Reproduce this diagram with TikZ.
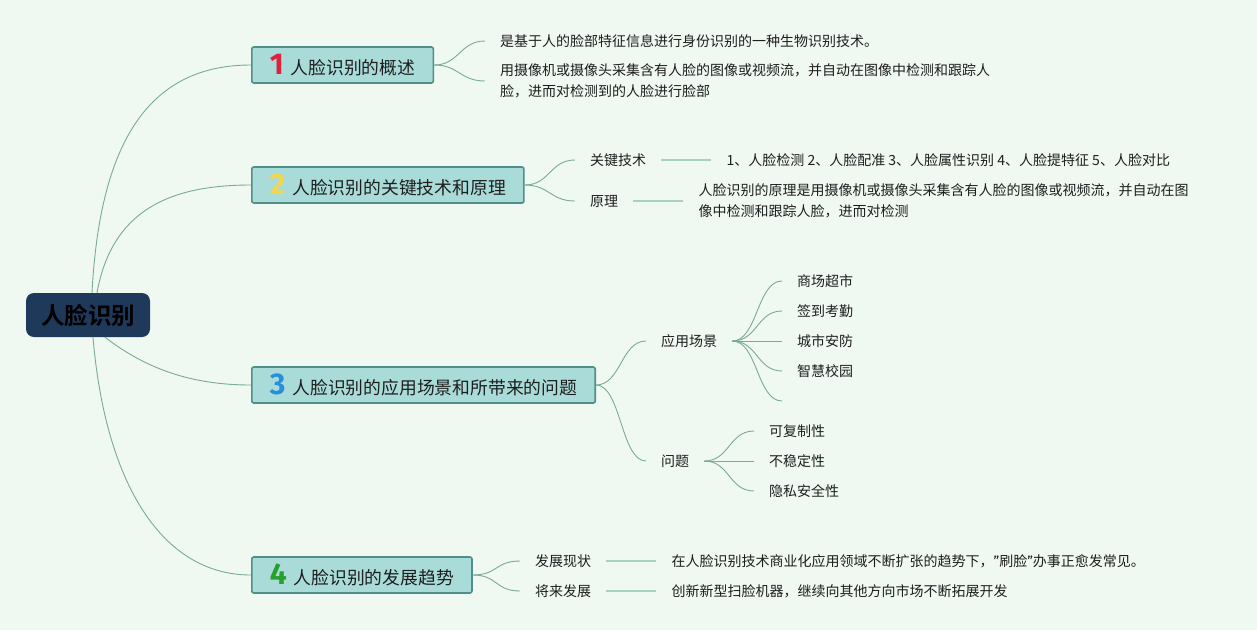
\documentclass[tikz,border=0pt]{standalone}
\usepackage{fontspec}
\setmainfont{Noto Sans CJK SC}[BoldFont={Noto Sans CJK SC Bold}]
\newfontfamily\numfont{Fira Sans}[BoldFont={Fira Sans Bold}]
\usepackage{xcolor}
\usepackage{tikz}
\usetikzlibrary{positioning}

\definecolor{bgmint}{HTML}{F0F8F2}
\definecolor{rootblue}{HTML}{1F395B}
\definecolor{topicfill}{HTML}{A9DCD9}
\definecolor{topicline}{HTML}{4F8F87}
\definecolor{branchgreen}{HTML}{78AC95}
\definecolor{stubgreen}{HTML}{A9D1C1}
\definecolor{inkgray}{HTML}{1E1E1E}
\definecolor{numred}{HTML}{E0213B}
\definecolor{numyellow}{HTML}{F4D64A}
\definecolor{numblue}{HTML}{2A8FDA}
\definecolor{numgreen}{HTML}{27A02E}

% coloured topic number in front of a topic text
\newcommand{\tnum}[2]{{\numfont\bfseries\fontsize{30}{20}\selectfont\color{#1}#2}\hspace{7pt}}
\newcommand{\nq}{{\numfont ”}}

\begin{document}
\begin{tikzpicture}[
    x=1pt, y=-1pt,
    node distance=50pt,
    every node/.style={font=\fontsize{14}{20.5}\selectfont, text=inkgray},
    rootbox/.style={fill=rootblue, rounded corners=8pt, minimum width=124pt, minimum height=44pt, font=\fontsize{23.5}{26}\selectfont\bfseries, text=black},
    topic/.style={draw=topicline, line width=1.6pt, fill=topicfill, rounded corners=2pt, anchor=west, minimum height=36pt, inner xsep=18pt, inner ysep=0pt, font=\fontsize{17.8}{20}\selectfont},
    leaf/.style={anchor=west, inner xsep=15pt, inner ysep=2pt, align=left},
    branch/.style={draw=branchgreen, line width=0.9pt},
    stub/.style={draw=stubgreen, line width=1.8pt}
]
\fill[bgmint] (0,0) rectangle (1257,630);
\useasboundingbox (0,0) rectangle (1257,630);

\node[rootbox] (root) at (88,315) {人脸识别};

\node[topic] (t1) at (251,65) {\tnum{numred}{1}人脸识别的概述};
\node[topic] (t2) at (251,185) {\tnum{numyellow}{2}人脸识别的关键技术和原理};
\node[topic] (t3) at (251,385) {\tnum{numblue}{3}人脸识别的应用场景和所带来的问题};
\node[topic] (t4) at (251,575) {\tnum{numgreen}{4}人脸识别的发展趋势};

% topic 1
\node[leaf] (t1a) at (485,41) {是基于人的脸部特征信息进行身份识别的一种生物识别技术。};
\node[leaf] (t1b) at (485,81) {用摄像机或摄像头采集含有人脸的图像或视频流，并自动在图像中检测和跟踪人\\脸，进而对检测到的人脸进行脸部};

% topic 2
\node[leaf] (t2a) at (575,160) {关键技术};
\node[leaf] (t2b) at (575,201) {原理};
\node[leaf, right=of t2a] (t2at) {1、人脸检测 2、人脸配准 3、人脸属性识别 4、人脸提特征 5、人脸对比};
\node[leaf, right=of t2b] (t2bt) {人脸识别的原理是用摄像机或摄像头采集含有人脸的图像或视频流，并自动在图\\像中检测和跟踪人脸，进而对检测};

% topic 3
\node[leaf] (t3a) at (646,341) {应用场景};
\node[leaf] (t3b) at (646,461) {问题};
\node[leaf] (s1) at (782,281) {商场超市};
\node[leaf] (s2) at (782,311) {签到考勤};
\node[leaf] (s3) at (782,341) {城市安防};
\node[leaf] (s4) at (782,371) {智慧校园};
\coordinate (s5) at (782,401);
\node[leaf] (p1) at (754,431) {可复制性};
\node[leaf] (p2) at (754,461) {不稳定性};
\node[leaf] (p3) at (754,491) {隐私安全性};

% topic 4
\node[leaf] (t4a) at (520,561) {发展现状};
\node[leaf] (t4b) at (520,591) {将来发展};
\node[leaf, right=of t4a] (t4at) {在人脸识别技术商业化应用领域不断扩张的趋势下，\nq 刷脸\nq 办事正愈发常见。};
\node[leaf, right=of t4b] (t4bt) {创新新型扫脸机器，继续向其他方向市场不断拓展开发};

% root to topics
\draw[branch] ([xshift=4pt]root.north) .. controls (100,140) and (150,65) .. (t1.west);
\draw[branch] ([xshift=9pt]root.north) .. controls (112,210) and (170,185) .. (t2.west);
\draw[branch] ([xshift=17pt]root.south) .. controls (145,368) and (190,385) .. (t3.west);
\draw[branch] ([xshift=5pt]root.south) .. controls (105,480) and (160,575) .. (t4.west);

% topics to leaves
\foreach \a/\b in {t1/t1a, t1/t1b, t2/t2a, t2/t2b, t3/t3a, t3/t3b, t4/t4a, t4/t4b}
  \draw[branch] (\a.east) .. controls +(25,0) and +(-25,0) .. (\b.west);
\foreach \s in {s1,s2,s3,s4}
  \draw[branch] (t3a.east) .. controls +(25,0) and +(-25,0) .. (\s.west);
\draw[branch] (t3a.east) .. controls +(25,0) and +(-25,0) .. (s5);
\foreach \s in {p1,p2,p3}
  \draw[branch] (t3b.east) .. controls +(25,0) and +(-25,0) .. (\s.west);

\draw[stub] (t2a) -- (t2at);
\draw[stub] (t2b) -- (t2bt);
\draw[stub] (t4a) -- (t4at);
\draw[stub] (t4b) -- (t4bt);
\end{tikzpicture}
\end{document}
